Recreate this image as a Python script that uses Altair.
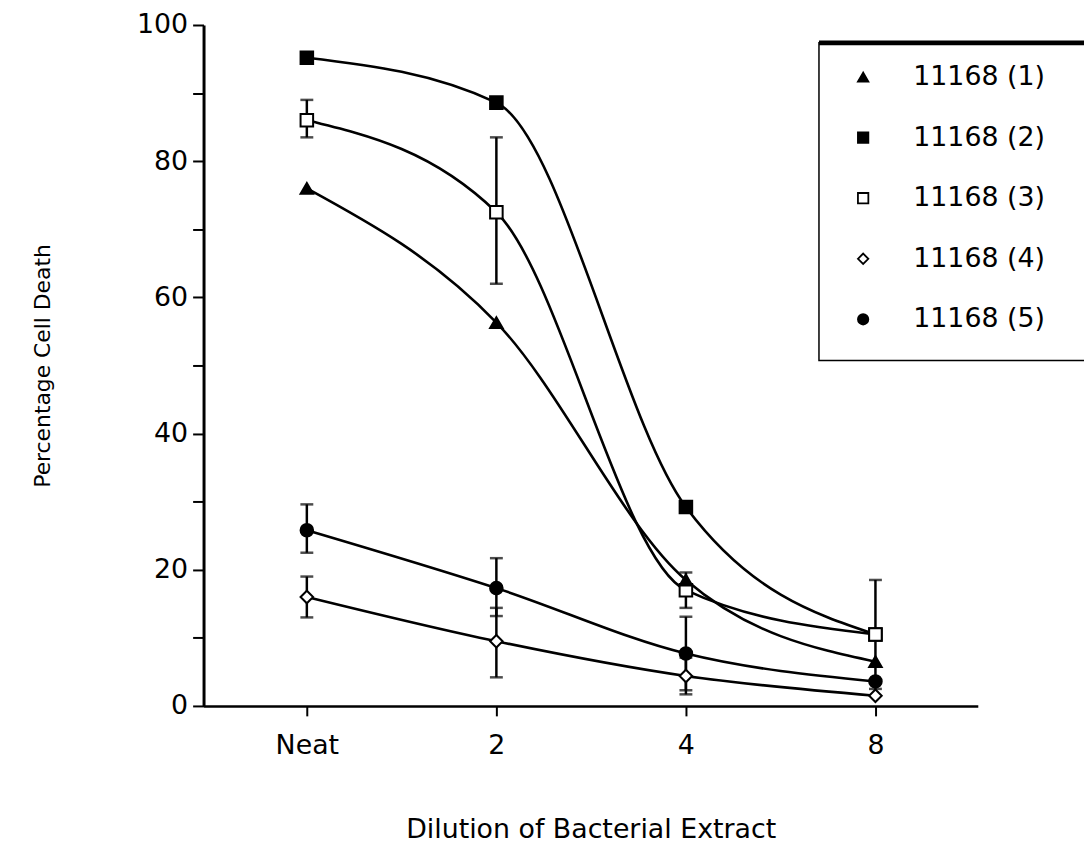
import altair as alt
import pandas as pd

# ---- data ----
x_labels = ["Neat", "2", "4", "8"]
x_pos = [0, 1, 2, 3]
series = ["11168 (1)", "11168 (2)", "11168 (3)", "11168 (4)", "11168 (5)"]

s1 = [76.0, 56.3, 18.5, 6.5]
s2 = [95.2, 88.6, 29.2, 10.5]
s3 = [86.0, 72.5, 17.0, 10.5]
s4 = [16.0, 9.5, 4.4, 1.5]
s5 = [25.8, 17.3, 7.7, 3.6]

# error bar bounds (None = no bar drawn)
s3_lo = [83.5, 62.0, 14.4, 2.5]
s3_hi = [89.0, 83.5, 19.6, 18.5]
s4_lo = [13.0, 4.2, 1.7, None]
s4_hi = [19.0, 14.4, 7.1, None]
s5_lo = [22.5, 13.2, 2.3, None]
s5_hi = [29.6, 21.7, 13.1, None]

values = [s1, s2, s3, s4, s5]
err = {2: (s3_lo, s3_hi), 3: (s4_lo, s4_hi), 4: (s5_lo, s5_hi)}

rows = []
for si, name in enumerate(series):
    for xi, xp in enumerate(x_pos):
        rows.append({"series": name, "x": xp, "label": x_labels[xi], "y": values[si][xi]})
df = pd.DataFrame(rows)

# draw order of symbols (later rows on top)
draw_order = ["11168 (2)", "11168 (3)", "11168 (1)", "11168 (4)", "11168 (5)"]
pts = pd.concat([df[df.series == s] for s in draw_order], ignore_index=True)

erows = []
for si, (lo, hi) in err.items():
    for xi, xp in enumerate(x_pos):
        if lo[xi] is not None:
            erows.append({"series": series[si], "x": xp, "lo": lo[xi], "hi": hi[xi]})
edf = pd.DataFrame(erows)

FONT = "DejaVu Sans"
YTITLE = "Percentage Cell Death"

x_enc = alt.X(
    "x:Q",
    scale=alt.Scale(domain=[-0.545, 3.54], nice=False, zero=False),
    axis=alt.Axis(
        values=x_pos,
        labelExpr="['Neat','2','4','8'][datum.value]",
        title="Dilution of Bacterial Extract",
        titleFontSize=27,
        titleFont=FONT,
        titleFontWeight="normal",
        titleY=112,
        titleBaseline="top",
        tickSize=10,
        tickWidth=2,
        domainWidth=2.5,
        labelPadding=17,
        grid=False,
    ),
)
y_enc = alt.Y(
    "y:Q",
    title=YTITLE,
    scale=alt.Scale(domain=[0, 100], nice=False),
    axis=alt.Axis(
        values=list(range(0, 101, 10)),
        labelExpr="datum.value % 20 == 0 ? datum.label : ''",
        titleFontSize=22,
        titleFont=FONT,
        titleFontWeight="normal",
        titleX=-150,
        titleY=343,
        tickSize=11,
        tickWidth=2,
        domainWidth=3,
        labelPadding=5,
        grid=False,
    ),
)

legend = alt.Legend(
    title=None,
    orient="none",
    legendX=620,
    legendY=18,
    labelFont=FONT,
    labelFontSize=27,
    labelColor="black",
    symbolSize=110,
    symbolStrokeColor="black",
    symbolStrokeWidth=1.8,
    rowPadding=33,
    padding=21,
    symbolOffset=10,
    labelOffset=37,
    labelLimit=400,
)

lines = alt.Chart(df).mark_line(
    interpolate="monotone", color="black", strokeWidth=2.6
).encode(x=x_enc, y=y_enc, detail="series:N")

bars = alt.Chart(edf).mark_errorbar(
    ticks=alt.MarkConfig(size=13, color="black"),
    rule=alt.MarkConfig(color="black"),
    thickness=2.5,
    color="black",
).encode(x=alt.X("x:Q"), y=alt.Y("lo:Q", title=YTITLE), y2="hi:Q", detail="series:N")

points = alt.Chart(pts).mark_point(
    filled=True, strokeWidth=2, opacity=1, size=160
).encode(
    x=alt.X("x:Q"),
    y=alt.Y("y:Q", title=YTITLE),
    shape=alt.Shape(
        "series:N",
        scale=alt.Scale(domain=series, range=["triangle-up", "square", "square", "diamond", "circle"]),
        legend=legend,
    ),
    fill=alt.Fill(
        "series:N",
        scale=alt.Scale(domain=series, range=["black", "black", "white", "white", "black"]),
        legend=legend,
    ),
    stroke=alt.Stroke(
        "series:N",
        scale=alt.Scale(domain=series, range=["black", "black", "black", "black", "black"]),
        legend=legend,
    ),
)

deco = pd.DataFrame({"k": [0]})
box = alt.Chart(deco).mark_rect(fillOpacity=0, stroke="black", strokeWidth=1.5).encode(
    x=alt.value(620), x2=alt.value(900), y=alt.value(18), y2=alt.value(338)
)
topbar = alt.Chart(deco).mark_rule(color="black", strokeWidth=5).encode(
    x=alt.value(620), x2=alt.value(900), y=alt.value(18)
)

chart = (
    alt.layer(lines, bars, points, box, topbar)
    .properties(
        width=780,
        height=686,
        autosize=alt.AutoSizeParams(type="none"),
        padding={"left": 197, "top": 14, "right": 107, "bottom": 140},
        background="white",
    )
    .configure_view(stroke=None)
    .configure_axis(
        labelFont=FONT,
        labelFontSize=27,
        labelColor="black",
        domainColor="black",
        tickColor="black",
        titleColor="black",
    )
)

chart.save("out.html", embed_options={"renderer": "svg", "actions": False})
